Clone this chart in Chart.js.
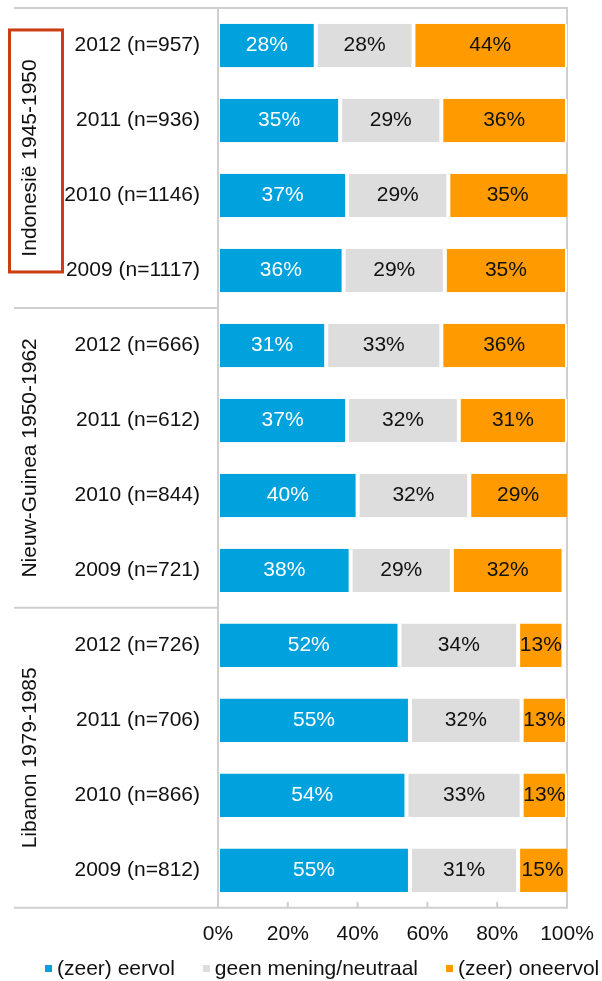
<!DOCTYPE html>
<html>
<head>
<meta charset="utf-8">
<script src="https://cdn.jsdelivr.net/npm/chart.js@4"></script>
<style>
  body { margin: 0; background: #fff; }
  #wrap { width: 602px; height: 981px; position: relative; }
</style>
</head>
<body>
<div id="wrap"><canvas id="canvas1"></canvas></div>
<script>
/*
  rows run top to bottom, grouped per mission (4 years each)
*/
const categories = [
  "2012 (n=957)", "2011 (n=936)", "2010 (n=1146)", "2009 (n=1117)",
  "2012 (n=666)", "2011 (n=612)", "2010 (n=844)", "2009 (n=721)",
  "2012 (n=726)", "2011 (n=706)", "2010 (n=866)", "2009 (n=812)"
];
const groups = ["Indonesië 1945-1950", "Nieuw-Guinea 1950-1962", "Libanon 1979-1985"];
const seriesNames = ["(zeer) eervol", "geen mening/neutraal", "(zeer) oneervol"];
const eervol = [28, 35, 37, 36, 31, 37, 40, 38, 52, 55, 54, 55];
const neutraal = [28, 29, 29, 29, 33, 32, 32, 29, 34, 32, 33, 31];
const oneervol = [44, 36, 35, 35, 36, 31, 29, 32, 13, 13, 13, 15];
const xTicks = [0, 20, 40, 60, 80, 100];

const FONT = "'Liberation Sans', Arial, sans-serif";
const colors = ["#00a2de", "#dddddd", "#ff9a00"];
const lineColor = "#cfcfcf";

const decor = {
  id: "decor",
  beforeDatasetsDraw(chart) {
    const c = chart.ctx, a = chart.chartArea;
    c.save();
    c.strokeStyle = lineColor;
    c.lineWidth = 2;
    // right border, hidden behind the bars
    c.beginPath();
    c.moveTo(a.right, a.top);
    c.lineTo(a.right, a.bottom);
    c.stroke();
    c.restore();
  },
  afterDatasetsDraw(chart) {
    const c = chart.ctx;
    const a = chart.chartArea;
    // value labels inside the bars
    c.save();
    c.font = "21px " + FONT;
    c.textAlign = "center";
    c.textBaseline = "middle";
    chart.data.datasets.forEach((ds, di) => {
      chart.getDatasetMeta(di).data.forEach((el, i) => {
        const x1 = Math.min(el.x, a.right);
        c.fillStyle = di === 0 ? "#ffffff" : "#111111";
        c.fillText(ds.data[i] + "%", (el.base + x1) / 2, el.y);
      });
    });
    c.restore();
  },
  afterDraw(chart) {
    const c = chart.ctx;
    const a = chart.chartArea;
    const ys = chart.scales.y, xs = chart.scales.x;
    const h = ys.getPixelForValue(1) - ys.getPixelForValue(0);
    c.save();
    c.strokeStyle = lineColor;
    c.lineWidth = 2;
    // left axis line
    c.beginPath();
    c.moveTo(a.left, a.top);
    c.lineTo(a.left, a.bottom);
    c.stroke();
    // group separators
    for (let g = 0; g <= groups.length; g++) {
      const y = ys.getPixelForValue(g * 4) - h / 2;
      const right = (g === 0 || g === groups.length) ? a.right + 1 : a.left;
      c.beginPath();
      c.moveTo(14, y);
      c.lineTo(right, y);
      c.stroke();
    }
    // inner tick marks on x axis
    xTicks.forEach(v => {
      const x = xs.getPixelForValue(v);
      c.beginPath();
      c.moveTo(x, a.bottom - 6);
      c.lineTo(x, a.bottom);
      c.stroke();
    });
    // rotated group labels
    c.fillStyle = "#111111";
    c.font = "21px " + FONT;
    c.textAlign = "center";
    c.textBaseline = "middle";
    groups.forEach((name, g) => {
      const y = (ys.getPixelForValue(g * 4) + ys.getPixelForValue(g * 4 + 3)) / 2;
      c.save();
      c.translate(30, y);
      c.rotate(-Math.PI / 2);
      c.fillText(name, 0, 0);
      c.restore();
      if (g === 0) {
        c.strokeStyle = "#cc3d12";
        c.lineWidth = 3;
        c.strokeRect(9.5, y - 128, 53, 242);
      }
    });
    // legend
    let lx = 45;
    const ly = 969;
    c.textAlign = "left";
    chart.data.datasets.forEach((ds) => {
      c.fillStyle = ds.backgroundColor;
      c.fillRect(lx, ly - 4, 7, 7);
      c.fillStyle = "#111111";
      c.fillText(ds.label, lx + 12, ly);
      lx += 12 + c.measureText(ds.label).width + 28;
    });
    c.restore();
  }
};

window.onload = function () {
  let ctx1 = document.getElementById("canvas1").getContext("2d");
  new Chart(ctx1, {
    type: "bar",
    data: {
      labels: categories,
      datasets: [eervol, neutraal, oneervol].map((d, i) => ({
        label: seriesNames[i],
        data: d,
        backgroundColor: colors[i],
        borderColor: "#ffffff",
        borderWidth: { left: 2, right: 2, top: 0, bottom: 0 },
        borderSkipped: false,
        barPercentage: 0.58,
        categoryPercentage: 1
      }))
    },
    options: {
      indexAxis: "y",
      responsive: true,
      maintainAspectRatio: false,
      animation: false,
      layout: { padding: { top: 8, right: 35, bottom: 20, left: 0 } },
      plugins: {
        legend: { display: false },
        tooltip: { enabled: false }
      },
      scales: {
        x: {
          stacked: true,
          min: 0,
          max: 100,
          afterBuildTicks: (s) => { s.ticks = xTicks.map(v => ({ value: v })); },
          afterFit: (s) => { s.paddingLeft = 0; s.paddingRight = 0; },
          ticks: {
            callback: (v) => v + "%",
            color: "#111111",
            font: { family: FONT, size: 21 },
            padding: 14,
            maxRotation: 0
          },
          grid: { display: false, drawTicks: false },
          border: { display: false }
        },
        y: {
          stacked: true,
          afterFit: (s) => { s.width = 218; s.paddingTop = 0; s.paddingBottom = 0; },
          ticks: {
            color: "#111111",
            font: { family: FONT, size: 21 },
            padding: 18
          },
          grid: { display: false, drawTicks: false },
          border: { display: false }
        }
      }
    },
    plugins: [decor]
  });
};
</script>
</body>
</html>
